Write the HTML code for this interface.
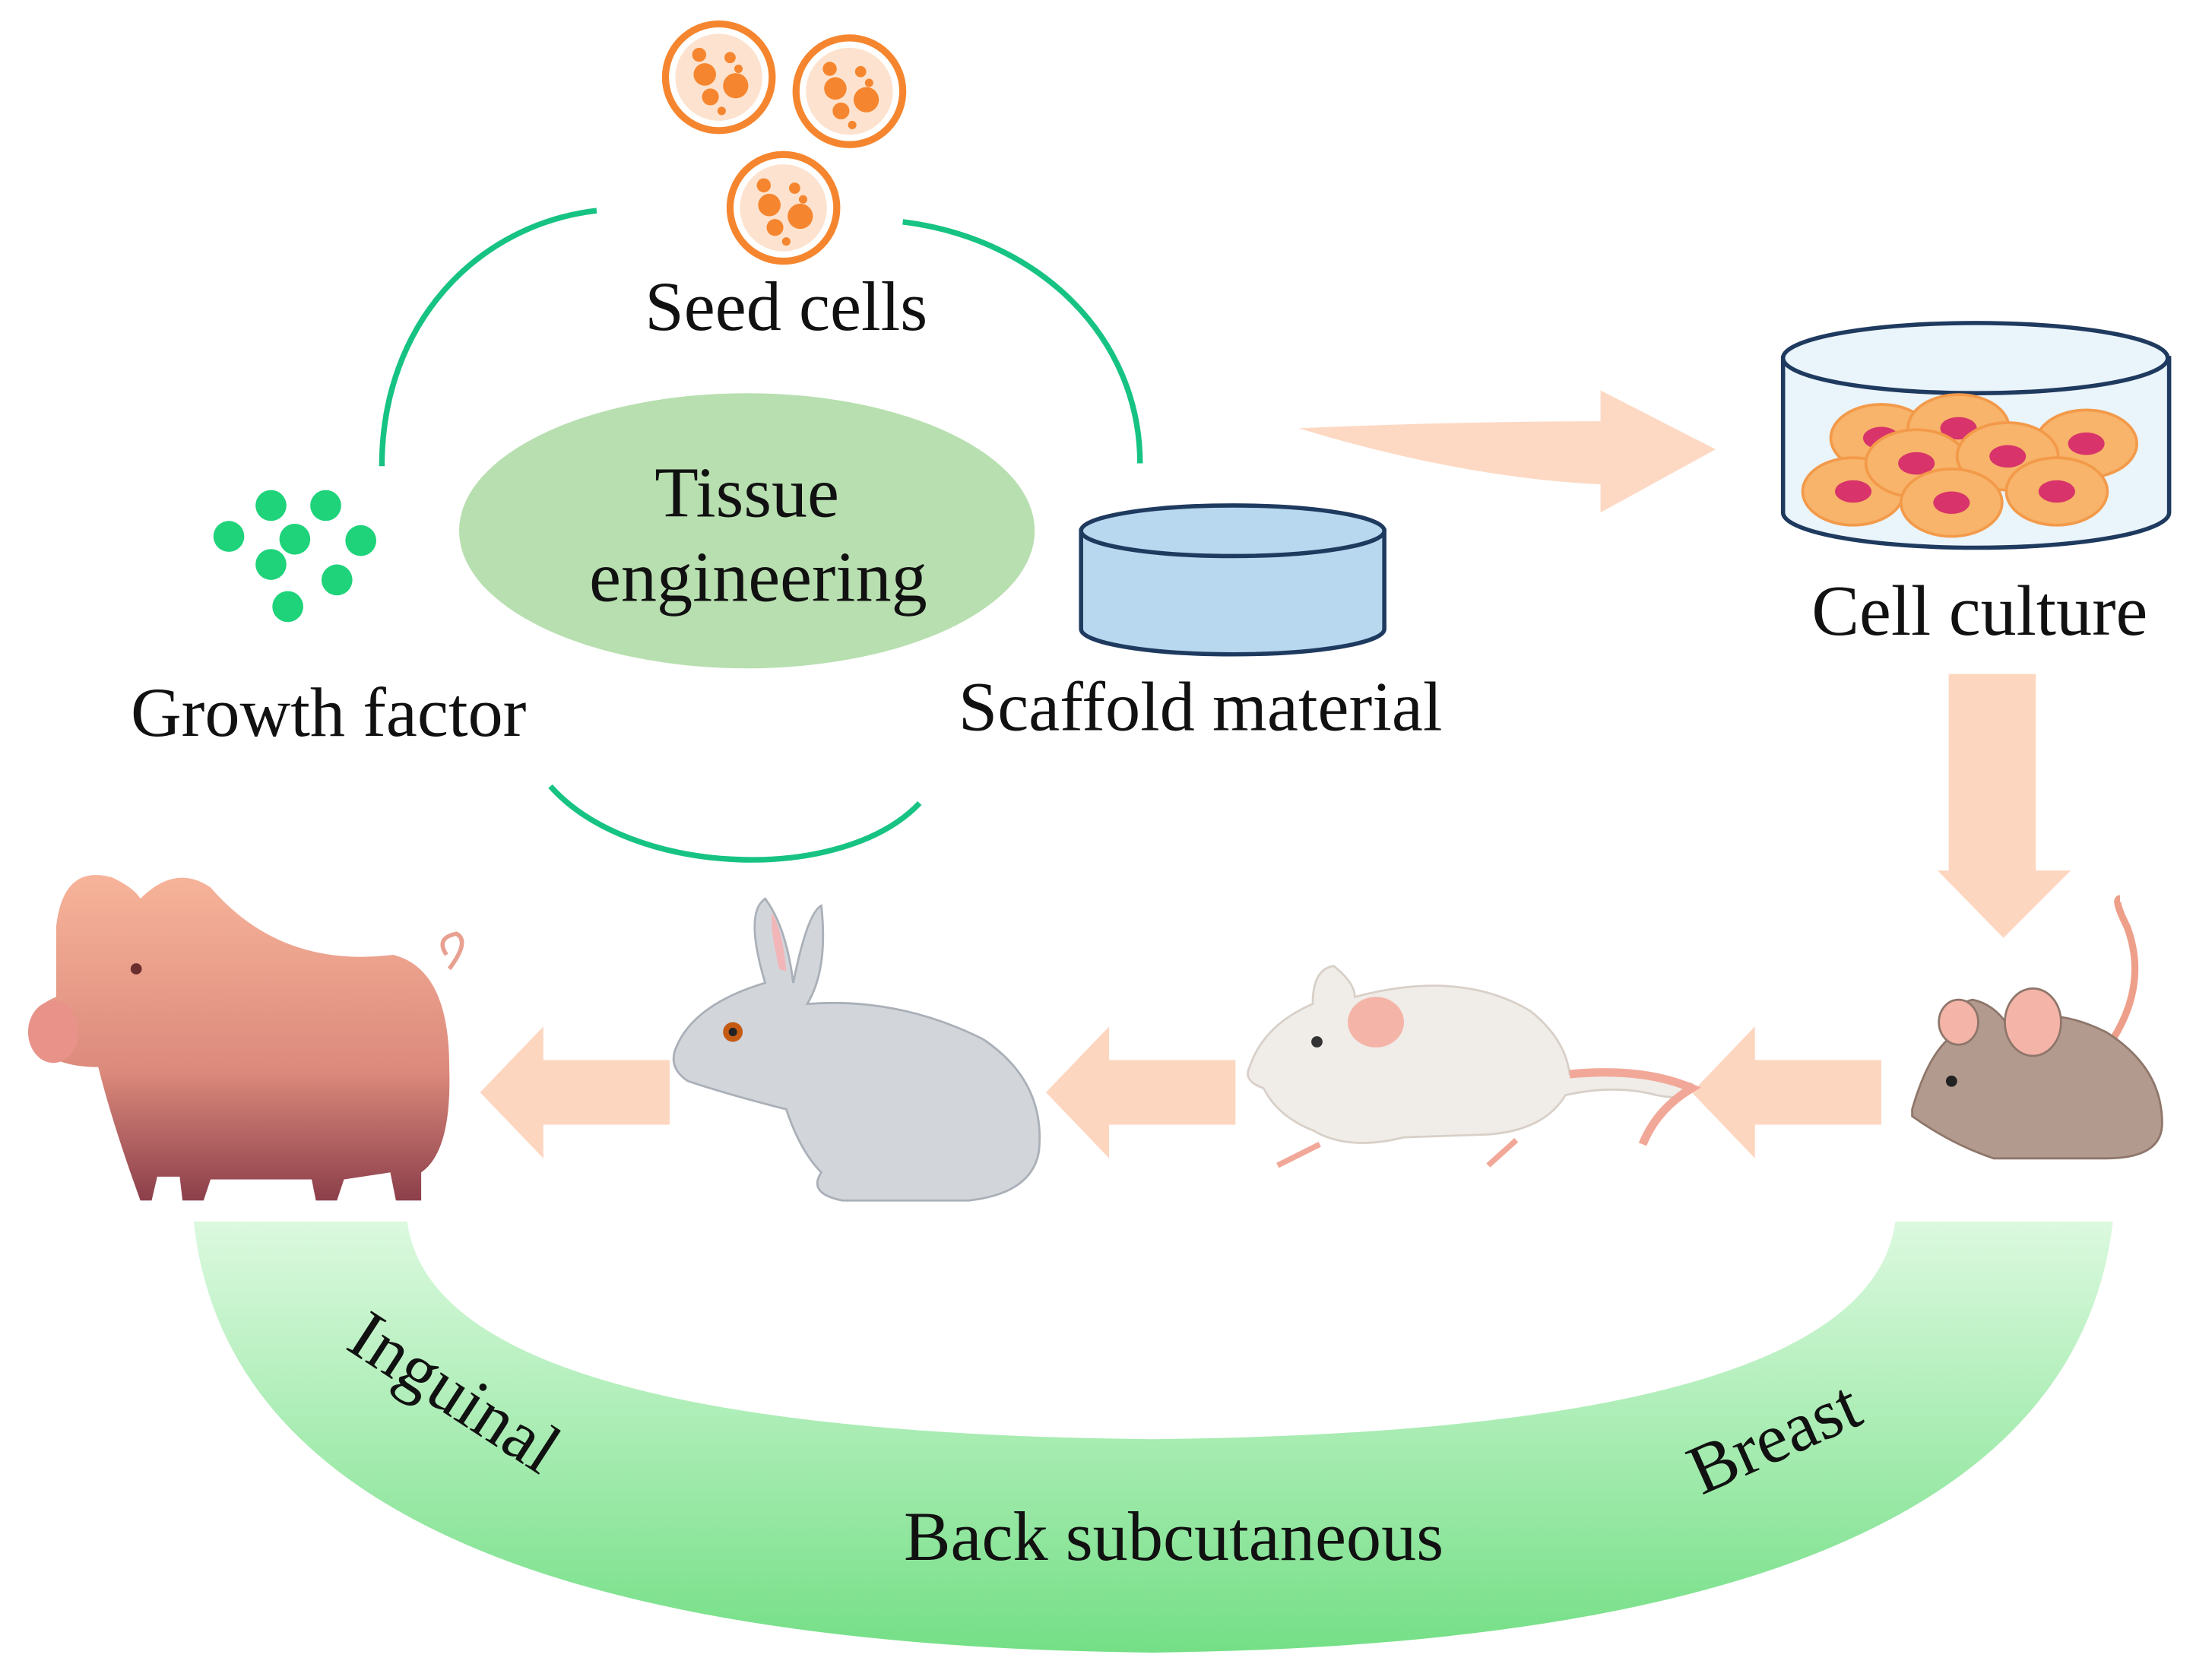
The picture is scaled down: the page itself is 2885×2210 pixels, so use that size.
<!DOCTYPE html>
<html><head><meta charset="utf-8"><style>
html,body{margin:0;padding:0;background:#fff;}
svg{display:block;}
text{font-family:"Liberation Serif",serif;fill:#111;}
</style></head><body>
<svg width="2885" height="2210" viewBox="0 0 1562 1196.5" xmlns="http://www.w3.org/2000/svg">
<defs>
<linearGradient id="band" x1="0" y1="0" x2="0" y2="1">
<stop offset="0" stop-color="#dcf9df"/><stop offset="1" stop-color="#74df86"/></linearGradient>
<linearGradient id="pig" x1="0" y1="0" x2="0" y2="1">
<stop offset="0" stop-color="#f7b49a"/><stop offset="0.6" stop-color="#dc8a7c"/><stop offset="1" stop-color="#8c3f4a"/></linearGradient>
<g id="cell">
<circle r="38" fill="#fff" stroke="#f5862f" stroke-width="5"/>
<circle r="31" fill="#fde3cf"/>
<circle cx="-10" cy="-2" r="8" fill="#f5862f"/><circle cx="12" cy="6" r="9" fill="#f5862f"/>
<circle cx="-6" cy="14" r="6" fill="#f5862f"/><circle cx="8" cy="-14" r="4" fill="#f5862f"/>
<circle cx="-14" cy="-16" r="5" fill="#f5862f"/><circle cx="14" cy="-6" r="3" fill="#f5862f"/>
<circle cx="2" cy="24" r="3" fill="#f5862f"/>
</g>
<g id="la"><polygon points="0,0 45,-47 45,-23 135,-23 135,23 45,23 45,47" fill="#fdd6c0"/></g>
<g id="oc"><ellipse rx="36" ry="24" fill="#f7b46a" stroke="#f39a4a" stroke-width="2"/><ellipse rx="13" ry="8" fill="#d8336a"/></g>
</defs>

<use href="#cell" x="512" y="55"/><use href="#cell" x="605" y="65"/><use href="#cell" x="558" y="148"/>
<text x="560" y="235" font-size="50" text-anchor="middle">Seed cells</text>

<g fill="none" stroke="#17c383" stroke-width="4">
<path d="M272,332 C272,230 340,160 425,150"/>
<path d="M643,158 C740,170 812,240 812,330"/>
<path d="M392,560 C450,625 600,630 655,572"/>
</g>
<ellipse cx="532" cy="378" rx="205" ry="98" fill="#b8dfb0"/>
<text x="532" y="368" font-size="51" text-anchor="middle">Tissue</text>
<text x="540" y="428" font-size="51" text-anchor="middle">engineering</text>

<g fill="#1ed37a">
<circle cx="193" cy="360" r="11"/><circle cx="232" cy="360" r="11"/><circle cx="163" cy="382" r="11"/>
<circle cx="210" cy="384" r="11"/><circle cx="257" cy="385" r="11"/><circle cx="193" cy="402" r="11"/>
<circle cx="240" cy="413" r="11"/><circle cx="205" cy="432" r="11"/></g>
<text x="234" y="524" font-size="50" text-anchor="middle">Growth factor</text>

<path d="M770,378 L770,448 A108,18 0 0 0 986,448 L986,378 Z" fill="#b7d8ef" stroke="#1f3a5f" stroke-width="3"/>
<ellipse cx="878" cy="378" rx="108" ry="18" fill="#b7d8ef" stroke="#1f3a5f" stroke-width="3"/>
<text x="855" y="520" font-size="50" text-anchor="middle">Scaffold material</text>

<path d="M925,305 Q1040,300 1140,300 L1140,278 L1222,320 L1140,365 L1140,345 Q1040,340 925,305 Z" fill="#fdd9c4"/>

<path d="M1270,255 L1270,365 A137,25 0 0 0 1545,365 L1545,255 Z" fill="#eaf4fb" stroke="#1f3a5f" stroke-width="3"/>
<ellipse cx="1407" cy="255" rx="137" ry="25" fill="#eaf4fb" stroke="#1f3a5f" stroke-width="3"/>
<use href="#oc" x="1340" y="312"/><use href="#oc" x="1395" y="305"/><use href="#oc" x="1486" y="316"/>
<use href="#oc" x="1320" y="350"/><use href="#oc" x="1365" y="330"/><use href="#oc" x="1430" y="325"/>
<use href="#oc" x="1390" y="358"/><use href="#oc" x="1465" y="350"/>
<text x="1410" y="452" font-size="51" text-anchor="middle">Cell culture</text>

<polygon points="1388,480 1450,480 1450,620 1475,620 1427,668 1380,620 1388,620" fill="#fdd6c0"/>

<use href="#la" x="1205" y="778"/>
<use href="#la" x="745" y="778"/>
<use href="#la" x="342" y="778"/>

<g>
<path d="M40,660 Q45,615 80,625 Q95,632 100,640 Q125,615 150,632 Q200,690 280,680 Q320,690 320,760 Q322,820 300,835 L300,855 L282,855 L278,835 L245,840 L240,855 L225,855 L222,840 L150,840 L145,855 L130,855 L128,838 L112,838 L108,855 L100,855 Q80,800 70,760 Q40,760 25,745 Q15,720 40,710 Z" fill="url(#pig)"/>
<ellipse cx="38" cy="735" rx="18" ry="22" fill="#e8928a"/>
<circle cx="97" cy="690" r="4" fill="#6b2e2e"/>
<path d="M320,690 Q335,670 325,665 Q310,668 318,680" fill="none" stroke="#e8a090" stroke-width="3"/>
</g>

<g>
<path d="M545,700 Q530,650 545,640 Q560,660 565,700 Q575,650 585,645 Q590,690 575,715 Q640,710 700,740 Q745,770 740,820 Q735,850 690,855 L600,855 Q575,850 585,835 Q570,820 560,790 Q520,780 490,770 Q475,760 482,745 Q495,715 545,700 Z" fill="#d2d5da" stroke="#aab0b8" stroke-width="1.5"/>
<circle cx="522" cy="735" r="7" fill="#c55a12"/><circle cx="522" cy="735" r="3" fill="#222"/>
<path d="M555,690 Q548,660 550,650 Q558,665 560,692 Z" fill="#f2b6b8"/>
</g>

<g>
<path d="M890,760 Q900,730 935,715 Q935,690 950,688 Q965,700 965,710 Q1040,690 1090,720 Q1115,740 1118,765 Q1160,760 1205,772 Q1205,785 1180,780 Q1150,772 1115,780 Q1100,805 1060,808 L1000,810 Q960,820 935,805 Q910,795 900,775 Q885,770 890,760 Z" fill="#f0ece8" stroke="#d8d0c8" stroke-width="1.5"/>
<ellipse cx="980" cy="728" rx="20" ry="18" fill="#f5b4a8"/>
<circle cx="938" cy="742" r="4" fill="#333"/>
<path d="M1118,765 Q1170,760 1205,775 Q1180,790 1170,815" fill="none" stroke="#f2a898" stroke-width="6"/>
<path d="M910,830 L940,815 M1060,830 L1080,812" stroke="#f2a898" stroke-width="4"/>
</g>

<g>
<path d="M1505,740 Q1530,700 1515,660 Q1505,640 1510,640" fill="none" stroke="#ee9f8a" stroke-width="5"/>
<path d="M1362,790 Q1375,745 1395,735 Q1390,715 1405,712 Q1420,715 1430,730 Q1460,715 1500,735 Q1540,760 1540,800 Q1540,825 1500,825 L1420,825 Q1390,815 1362,795 Z" fill="#b29a8e" stroke="#8e766a" stroke-width="1.5"/>
<ellipse cx="1448" cy="728" rx="20" ry="24" fill="#f5b4a8" stroke="#8e766a" stroke-width="1.5"/>
<ellipse cx="1395" cy="728" rx="14" ry="16" fill="#f5b4a8" stroke="#8e766a" stroke-width="1.5"/>
<circle cx="1390" cy="770" r="4" fill="#222"/>
</g>

<path d="M138,870 Q170,1170 820,1177 Q1470,1170 1505,870 L1350,870 Q1330,1020 820,1025 Q310,1020 290,870 Z" fill="url(#band)"/>
<text x="0" y="0" font-size="50" transform="translate(245,960) rotate(33)">Inguinal</text>
<text x="836" y="1111" font-size="50" text-anchor="middle">Back subcutaneous</text>
<text x="0" y="0" font-size="50" transform="translate(1212,1065) rotate(-24)">Breast</text>
</svg>
</body></html>
